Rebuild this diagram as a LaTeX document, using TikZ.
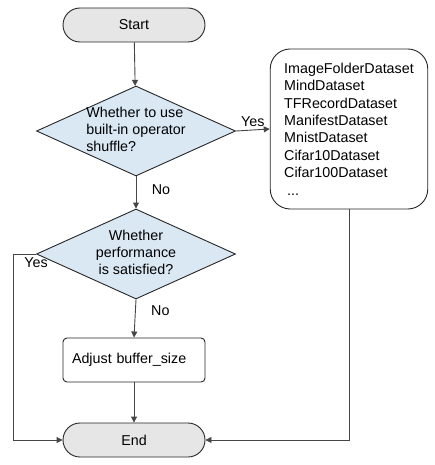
\documentclass[tikz,border=0pt]{standalone}
\usepackage{fontspec}
\setmainfont{Liberation Sans}
\usetikzlibrary{shapes.geometric,arrows.meta}
\definecolor{termgray}{RGB}{230,230,230}
\definecolor{decblue}{RGB}{218,232,244}
\definecolor{linegray}{RGB}{70,70,70}
\begin{document}
\begin{tikzpicture}[x=1pt,y=-1pt,
        font=\fontsize{14.3}{17.4}\selectfont,
        >={Triangle[length=6pt,width=6pt]},
        terminal/.style={draw=black!85,line width=0.9pt,rounded corners=17pt,fill=termgray,minimum width=142pt,minimum height=34pt},
        decision/.style={draw=black!85,line width=0.9pt,diamond,fill=decblue,inner sep=-30pt,minimum width=199pt,minimum height=90pt},
        process/.style={draw=black!85,line width=0.9pt,rounded corners=4pt,minimum width=142pt,minimum height=44pt,text width=124pt,inner xsep=9pt,align=left},
        datalist/.style={draw=black!85,line width=0.9pt,rounded corners=20pt,minimum height=160pt,inner xsep=14pt,align=left},
        flow/.style={draw=linegray,line width=0.9pt}]
        \useasboundingbox (0,0) rectangle (434,465);
        \node [terminal] (start) at (134,25) {Start};
        \node [decision] (use) at (136,131) {\begin{tabular}{@{}l@{}}Whether to use\\built-in operator\\shuffle?\end{tabular}};
        \node [datalist] (ds) at (349,129) {ImageFolderDataset\\MindDataset\\TFRecordDataset\\ManifestDataset\\MnistDataset\\Cifar10Dataset\\Cifar100Dataset\\\hspace{3pt}...};
        \node [decision] (perf) at (136,254) {\begin{tabular}{@{}c@{}}Whether\\performance\\is satisfied?\end{tabular}};
        \node [process] (adjust) at (134,360) {Adjust buffer\_size};
        \node [terminal] (end) at (134,440) {End};
        % main line
        \draw [flow,->] (start) -- (use);
        \draw [flow,->] (use.east) -- node [above,pos=0.5,text=black] {Yes} (ds.west);
        \draw [flow,->] (use.south) -- node [right,pos=0.4,xshift=12pt,text=black] {No} (perf.north);
        \draw [flow,->] (perf.south) -- node [right,pos=0.3,xshift=12pt,text=black] {No} (adjust.north);
        \draw [flow,->] (adjust) -- (end);
        % bypass lines
        \draw [flow,->] (perf.west) node [below,text=black] {Yes} -- ++(-23,0) |- (end.west);
        \draw [flow,->] (ds.south) |- (end.east);
    \end{tikzpicture}
\end{document}
